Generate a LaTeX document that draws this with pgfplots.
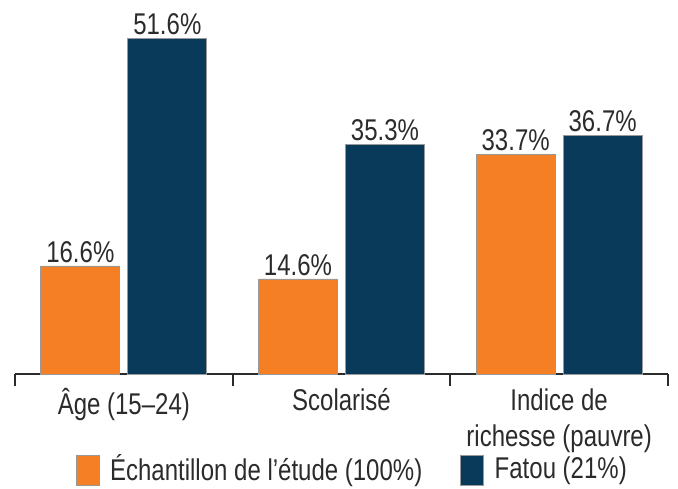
\documentclass[border=0pt]{standalone}
\usepackage{pgfplots}
\pgfplotsset{compat=1.18}
\usepackage{fontspec}
\setmainfont{Liberation Sans}[FakeStretch=0.8]
\definecolor{orangeb}{HTML}{F47F24}
\definecolor{navyb}{HTML}{0A3A5A}
\definecolor{txt}{HTML}{2B2B2B}
\begin{document}
\fontsize{15}{17}\selectfont
\begin{tikzpicture}
\useasboundingbox (-7.5pt,-57pt) rectangle (331.5pt,187pt);
\begin{axis}[
  scale only axis,
  width=326.5pt, height=179pt,
  xmin=0.5, xmax=3.5, ymin=0, ymax=55,
  axis x line=bottom, axis y line=none,
  axis line style={draw=txt, line width=1pt, -},
  xtick={0.5,1.5,2.5,3.5},
  xticklabels={},
  major tick length=6pt,
  xtick style={draw=txt, line width=1pt},
  xtick pos=bottom,
  tick align=inside,
  extra x ticks={1,2,3},
  extra x tick labels={Âge (15–24),Scolarisé,{Indice de\\richesse (pauvre)}},
  extra x tick style={major tick length=0pt, xticklabel style={align=center, font=\fontsize{15}{18}\selectfont, text=txt, yshift=-2pt}},
  ybar=4pt, bar width=39.5pt,
  nodes near coords={\pgfmathprintnumber[fixed,fixed zerofill,precision=1,assume math mode=true]{\pgfplotspointmeta}\%},
  nodes near coords style={font=\fontsize{15}{17}\selectfont, text=txt, inner sep=1.5pt},
  legend columns=2,
  legend style={draw=none, fill=none, at={(axis description cs:0.518,0)}, anchor=center, yshift=-48pt, font=\fontsize{15}{17}\selectfont, text=txt, /tikz/every even column/.append style={column sep=17pt}},
  legend image code/.code={\draw[#1, draw=black!40, line width=0.4pt] (0pt,-7.5pt) rectangle (11.5pt,7.5pt); \path[draw=none, fill=none] (0pt,0pt) -- (15pt,0pt);},
  clip=false,
]
\addplot[fill=orangeb, draw=black!40, line width=0.4pt] coordinates {(1,16.6) (2,14.6) (3,33.7)};
\addplot[fill=navyb, draw=black!40, line width=0.4pt] coordinates {(1,51.6) (2,35.3) (3,36.7)};
\legend{Échantillon de l'étude (100\%), Fatou (21\%)}
\end{axis}
\end{tikzpicture}
\end{document}
